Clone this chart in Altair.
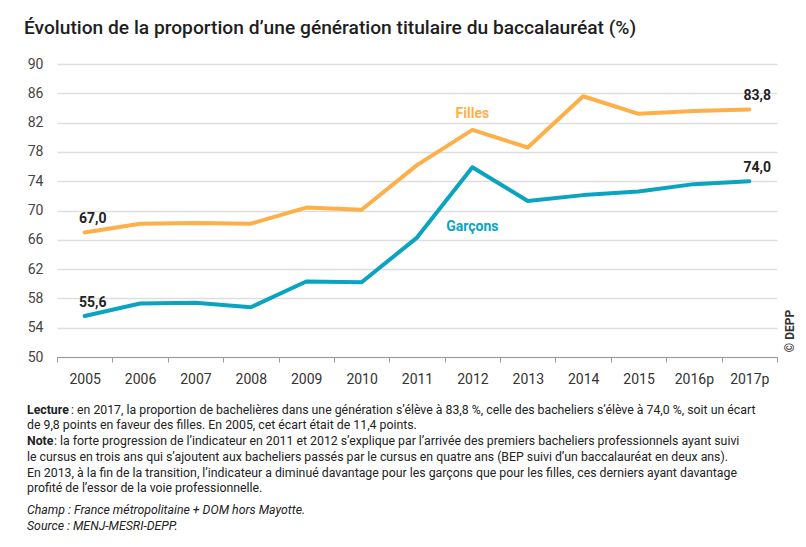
import altair as alt
import pandas as pd

years = ["2005", "2006", "2007", "2008", "2009", "2010", "2011", "2012",
         "2013", "2014", "2015", "2016p", "2017p"]
filles = [67.0, 68.2, 68.3, 68.2, 70.4, 70.1, 76.2, 81.0, 78.6, 85.6, 83.2, 83.6, 83.8]
garcons = [55.6, 57.3, 57.4, 56.8, 60.3, 60.2, 66.3, 75.9, 71.3, 72.1, 72.6, 73.6, 74.0]
series = ["Filles", "Garçons"]
colors = ["#FDB04A", "#0AA4C0"]
y_ticks = [50, 54, 58, 62, 66, 70, 74, 78, 82, 86, 90]

title_text = "Évolution de la proportion d’une génération titulaire du baccalauréat (%)"
notes = [
    ("Lecture", " : en 2017, la proportion de bachelières dans une génération s’élève à 83,8 %, celle des bacheliers s’élève à 74,0 %, soit un écart"),
    ("", "de 9,8 points en faveur des filles. En 2005, cet écart était de 11,4 points."),
    ("Note", " : la forte progression de l’indicateur en 2011 et 2012 s’explique par l’arrivée des premiers bacheliers professionnels ayant suivi"),
    ("", "le cursus en trois ans qui s’ajoutent aux bacheliers passés par le cursus en quatre ans (BEP suivi d’un baccalauréat en deux ans)."),
    ("", "En 2013, à la fin de la transition, l’indicateur a diminué davantage pour les garçons que pour les filles, ces derniers ayant davantage"),
    ("", "profité de l’essor de la voie professionnelle."),
]
champ = ["Champ : France métropolitaine + DOM hors Mayotte.", "Source : MENJ-MESRI-DEPP."]

rows = []
for s, vals in zip(series, [filles, garcons]):
    for y, v in zip(years, vals):
        rows.append({"year": y, "value": v, "serie": s,
                     "label": f"{v:.1f}".replace(".", ",")})
df = pd.DataFrame(rows)

base_font = "Roboto, sans-serif"

x_axis = alt.Axis(title=None, labelAngle=0, tickBand="extent", grid=False,
                  domainColor="#9a9a9a", tickColor="#9a9a9a", tickSize=5,
                  labelFontSize=14, labelColor="#333333", labelPadding=10,
                  labelFont=base_font)
y_axis = alt.Axis(title=None, values=y_ticks, domain=False, labelOverlap=False,
                  ticks=False, gridColor="#dedede", gridWidth=1.5,
                  labelFontSize=14, labelColor="#444444", labelPadding=14,
                  labelFont=base_font)
x_scale = alt.Scale(type="band", paddingInner=0, paddingOuter=0)
y_scale = alt.Scale(domain=[50, 90], nice=False, zero=False)

x_enc = alt.X("year:N", sort=years, bandPosition=0.5, scale=x_scale, axis=x_axis)
y_enc = alt.Y("value:Q", scale=y_scale, axis=y_axis)
color_enc = alt.Color("serie:N", scale=alt.Scale(domain=series, range=colors), legend=None)

base = alt.Chart(df)
lines = base.mark_line(strokeWidth=4, strokeCap="round", strokeJoin="round").encode(
    x=x_enc, y=y_enc, color=color_enc, detail="serie:N")

ends = base.transform_filter(
    alt.FieldOneOfPredicate(field="year", oneOf=["2005", "2017p"])
).mark_text(fontSize=14, fontWeight="bold", color="#222222", dy=-13, dx=8,
            font=base_font).encode(x=x_enc, y=y_enc, text="label:N")

lab_f = alt.Chart(pd.DataFrame({"t": ["Filles"]})).mark_text(
    fontSize=14, fontWeight="bold", color=colors[0], font=base_font
).encode(x=alt.X(datum="2012", bandPosition=0.5, scale=x_scale, axis=x_axis),
         y=alt.Y(datum=83.2, scale=y_scale, axis=y_axis), text="t:N")
lab_g = alt.Chart(pd.DataFrame({"t": ["Garçons"]})).mark_text(
    fontSize=14, fontWeight="bold", color=colors[1], font=base_font
).encode(x=alt.X(datum="2012", bandPosition=0.5, scale=x_scale, axis=x_axis),
         y=alt.Y(datum=67.8, scale=y_scale, axis=y_axis), text="t:N")

def txt(s, x, y, **kw):
    props = dict(align="left", baseline="middle", font=base_font, fontSize=12.3, color="#222222")
    props.update(kw)
    return alt.Chart(pd.DataFrame({"t": [s]})).mark_text(**props).encode(
        x=alt.value(x), y=alt.value(y), text="t:N")

layers = [lines, ends, lab_f, lab_g]
layers.append(txt(title_text, -33, -36, fontSize=19.2, fontWeight=500, color="#1e1e1e"))
layers.append(alt.Chart(pd.DataFrame({"t": ["© DEPP"]})).mark_text(
    angle=270, fontSize=12, fontWeight="bold", color="#333333", font=base_font,
    align="center", baseline="middle").encode(x=alt.value(733), y=alt.value(267), text="t:N"))

note_y = [346, 361, 377, 393, 409, 424]
for (b, r), yy in zip(notes, note_y):
    if b:
        layers.append(txt(b, -30, yy, fontWeight="bold"))
        layers.append(txt(r, -30 + (44 if b == "Lecture" else 27), yy))
    else:
        layers.append(txt(r, -30, yy))
for s, yy in zip(champ, [446, 462]):
    layers.append(txt(s, -30, yy, fontStyle="italic"))

chart = alt.layer(*layers).properties(
    width=720, height=293,
    autosize=alt.AutoSizeParams(type="none"),
    padding={"left": 49, "top": 56, "right": 21, "bottom": 182},
).configure_view(stroke=None)

chart.save("out.html", embed_options={"renderer": "svg", "actions": False})
